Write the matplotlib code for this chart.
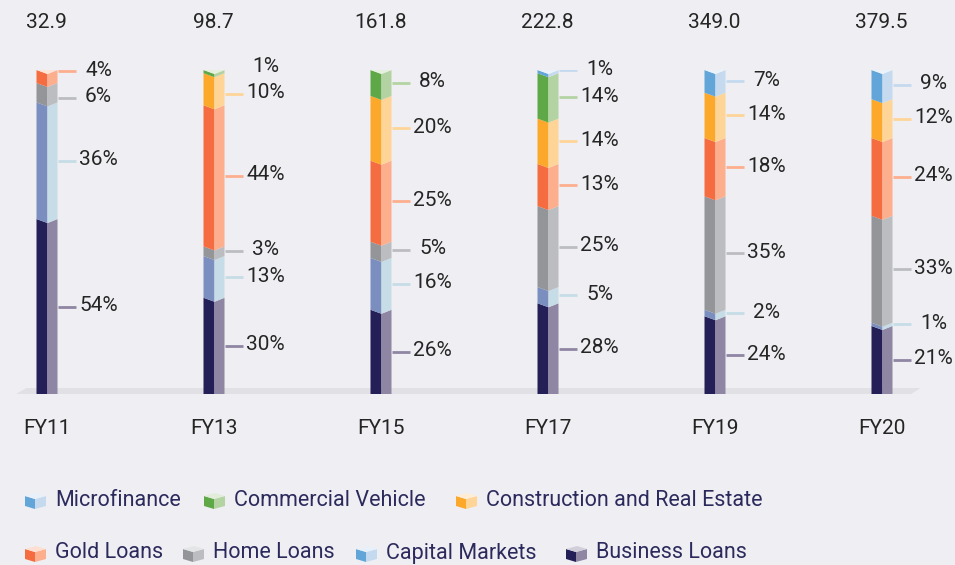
import matplotlib
matplotlib.use('Agg')
import matplotlib.pyplot as plt
from matplotlib.patches import Polygon
import numpy as np

# ---------------- data ----------------
years = ['FY11', 'FY13', 'FY15', 'FY17', 'FY19', 'FY20']
totals = [32.9, 98.7, 161.8, 222.8, 349.0, 379.5]

# stacked shares (%), bottom to top
business = [54, 30, 26, 28, 24, 21]
capital = [36, 13, 16, 5, 2, 1]
home = [6, 3, 5, 25, 35, 33]
gold = [4, 44, 25, 13, 18, 24]
construction = [0, 10, 20, 14, 14, 12]
commercial = [0, 1, 8, 14, 0, 0]
micro = [0, 0, 0, 1, 7, 9]

stack_names = ['Business Loans', 'Capital Markets', 'Home Loans', 'Gold Loans',
               'Construction and Real Estate', 'Commercial Vehicle', 'Microfinance']
stack_values = [business, capital, home, gold, construction, commercial, micro]

# (front, side) colours
colors = {
    'Business Loans': ('#241f56', '#8f86a4'),
    'Capital Markets': ('#7a8ebf', '#c6dce6'),
    'Home Loans': ('#939598', '#bbbdc0'),
    'Gold Loans': ('#f46c3f', '#fdae8d'),
    'Construction and Real Estate': ('#fba82b', '#fed597'),
    'Commercial Vehicle': ('#5ea847', '#b4d3a3'),
    'Microfinance': ('#62a6d9', '#c5daef'),
}
legend_colors = dict(colors)
legend_colors['Capital Markets'] = ('#62a6d9', '#c5daef')

legend_rows = [
    ['Microfinance', 'Commercial Vehicle', 'Construction and Real Estate'],
    ['Gold Loans', 'Home Loans', 'Capital Markets', 'Business Loans'],
]

# ---------------- layout ----------------
W, H = 955, 565
BG = '#efeff3'
plt.rcParams['font.family'] = ['Roboto', 'DejaVu Sans']

fig = plt.figure(figsize=(W / 100, H / 100), dpi=100, facecolor=BG)
base_px, top_px = 394, 70
first_px, step_px = 47.5, 167
ax = fig.add_axes([0, 1 - base_px / H, 1, (base_px - top_px) / H])
ax.set_facecolor('none')
ax.set_ylim(0, 100)
ax.set_xlim(-first_px / step_px, 5 + (W - first_px - 5 * step_px) / step_px)
ax.axis('off')

pxx = 1 / step_px                    # one pixel in x units
pxy = 100 / (base_px - top_px)       # one pixel in y units
wf, ws, d = 11 * pxx, 10 * pxx, 4 * pxy


def lighten(c, f):
    r, g, b = matplotlib.colors.to_rgb(c)
    return (r + (1 - r) * f, g + (1 - g) * f, b + (1 - b) * f)


# floor band
floor = Polygon([(-21 * pxx, (base_px - 388) * pxy), (5 + 38 * pxx, (base_px - 388) * pxy),
                 (5 + 19 * pxx, (base_px - 400) * pxy), (-42 * pxx, (base_px - 400) * pxy)],
                closed=True, facecolor='#e1e1e5', edgecolor='none', zorder=1)
ax.add_patch(floor)

text_color = '#252525'
for i, yr in enumerate(years):
    c = i
    vals = np.array([sv[i] for sv in stack_values], dtype=float)
    norm = vals / vals.sum() * 100
    b = 0.0
    labels = []
    top_side = None
    for name, v, nv in zip(stack_names, vals, norm):
        if v <= 0:
            continue
        t = b + nv
        fc, sc = colors[name]
        ax.add_patch(Polygon([(c - wf, b), (c, b - d), (c, t - d), (c - wf, t)],
                             closed=True, facecolor=fc, edgecolor='none', zorder=3))
        ax.add_patch(Polygon([(c, b - d), (c + ws, b), (c + ws, t), (c, t - d)],
                             closed=True, facecolor=sc, edgecolor='none', zorder=3))
        labels.append([(b + t) / 2, f'{int(v)}%', sc])
        top_side = sc
        b = t
    T = b
    ax.add_patch(Polygon([(c - wf, T), (c, T - d), (c + ws, T), (c + ws - wf, T + d)],
                         closed=True, facecolor=lighten(top_side, 0.65),
                         edgecolor='none', zorder=3))
    # declutter labels
    ys = [l[0] for l in labels]
    gap = 8.2
    for _ in range(300):
        moved = False
        for k in range(len(ys) - 1):
            diff = ys[k + 1] - ys[k]
            if diff < gap - 1e-6:
                push = (gap - diff) / 2
                ys[k] -= push
                ys[k + 1] += push
                moved = True
        if not moved:
            break
    for (mid, txt, sc), y in zip(labels, ys):
        ax.plot([c + ws, c + ws + 18 * pxx], [y, y], color=sc, lw=2,
                solid_capstyle='butt', zorder=2)
        ax.text(c + ws + 41 * pxx, y + 1 * pxy, txt, ha='center', va='center',
                fontsize=15, color=text_color, zorder=4)
    ax.text(c - 1 * pxx, (base_px - 22) * pxy, f'{totals[i]:.1f}', ha='center',
            va='center', fontsize=15, color=text_color, clip_on=False)
    ax.text(c - 1 * pxx, (base_px - 428) * pxy, yr, ha='center', va='center',
            fontsize=15, color=text_color, clip_on=False)

# ---------------- legend ----------------
lax = fig.add_axes([0, 0, 1, 1])
lax.set_facecolor('none')
lax.set_xlim(0, W)
lax.set_ylim(H, 0)
lax.axis('off')

row_y = [500, 553]
row_x = [[55, 234, 486], [55, 213, 386, 596]]
for names, xs, yc in zip(legend_rows, row_x, row_y):
    for name, xt in zip(names, xs):
        x = xt - 30
        fc, sc = legend_colors[name]
        lax.add_patch(Polygon([(x, yc - 4), (x + 10, yc - 1), (x + 10, yc + 9), (x, yc + 6)],
                              closed=True, facecolor=fc, edgecolor='none'))
        lax.add_patch(Polygon([(x + 10, yc - 1), (x + 21, yc - 4), (x + 21, yc + 6), (x + 10, yc + 9)],
                              closed=True, facecolor=sc, edgecolor='none'))
        lax.add_patch(Polygon([(x, yc - 4), (x + 10, yc - 1), (x + 21, yc - 4), (x + 11, yc - 7)],
                              closed=True, facecolor=lighten(sc, 0.6), edgecolor='none'))
        lax.text(xt, yc, name, ha='left', va='center', fontsize=15.5, color='#2c2a5c')

fig.savefig('out.png', dpi=100, facecolor=BG)
